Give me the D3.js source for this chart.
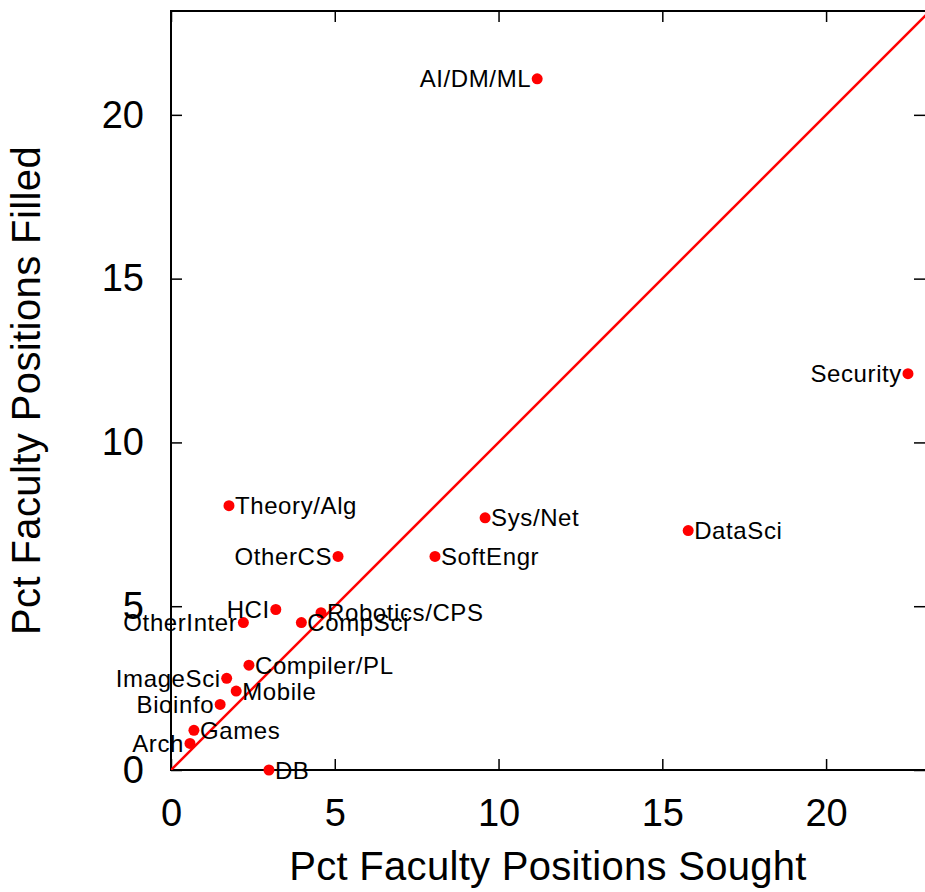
<!DOCTYPE html>
<html>
<head>
<meta charset="utf-8">
<script src="https://cdn.jsdelivr.net/npm/d3@7"></script>
<style>
  body { margin: 0; background: #fff; }
  text { font-family: "Liberation Sans", Arial, sans-serif; fill: #000; }
</style>
</head>
<body>
<div id="grafico"></div>
<script>
// Dados (percentuais)
const areas = ['AI/DM/ML', 'Security', 'Theory/Alg', 'Sys/Net', 'DataSci', 'OtherCS', 'SoftEngr',
    'HCI', 'Robotics/CPS', 'OtherInter', 'CompSci', 'Compiler/PL', 'ImageSci', 'Mobile',
    'Bioinfo', 'Games', 'Arch', 'DB'];
const sought = [11.18, 22.5, 1.77, 9.59, 15.79, 5.1, 8.06, 3.2, 4.58, 2.21, 3.98, 2.38, 1.7, 1.99, 1.5, 0.7, 0.58, 2.99];
const filled = [21.1, 12.1, 8.07, 7.7, 7.31, 6.52, 6.52, 4.9, 4.8, 4.5, 4.5, 3.2, 2.8, 2.41, 2.0, 1.21, 0.81, 0];
const ticks = [0, 5, 10, 15, 20];

// Rótulos que ficam à esquerda do ponto
const leftLabels = new Set(['AI/DM/ML', 'Security', 'OtherCS', 'HCI', 'OtherInter', 'ImageSci', 'Bioinfo', 'Arch']);

// Configurações do gráfico
let margin = { top: 11, right: 0, bottom: 122, left: 171 };
let width = 925 - margin.left - margin.right;
let height = 892 - margin.top - margin.bottom;

let svg = d3.select('#grafico').append('svg')
    .attr('width', 925)
    .attr('height', 892)
    .append('g')
    .attr('transform', `translate(${margin.left}, ${margin.top})`);

let x = d3.scaleLinear().domain([0, 23.02]).range([0, width]);
let y = d3.scaleLinear().domain([0, 23.17]).range([height, 0]);

svg.append('clipPath').attr('id', 'area')
    .append('rect').attr('width', width).attr('height', height);

// Ticks (para dentro, nos quatro lados)
let tickLen = 11;
svg.append('g').attr('transform', `translate(0, ${height})`)
    .call(d3.axisBottom(x).tickValues(ticks).tickSizeInner(-tickLen).tickSizeOuter(0).tickPadding(tickLen + 18))
    .call(g => g.select('.domain').remove())
    .call(g => g.selectAll('text').attr('font-size', 38).attr('dy', '0.71em'));

svg.append('g')
    .call(d3.axisLeft(y).tickValues(ticks).tickSizeInner(-tickLen).tickSizeOuter(0).tickPadding(tickLen + 16))
    .call(g => g.select('.domain').remove())
    .call(g => g.selectAll('text').attr('font-size', 38));

svg.append('g')
    .call(d3.axisTop(x).tickValues(ticks).tickSizeInner(-tickLen).tickSizeOuter(0).tickFormat(''))
    .call(g => g.select('.domain').remove());

svg.append('g').attr('transform', `translate(${width}, 0)`)
    .call(d3.axisRight(y).tickValues(ticks).tickSizeInner(-tickLen).tickSizeOuter(0).tickFormat(''))
    .call(g => g.select('.domain').remove());

svg.selectAll('.tick line').attr('stroke', '#000').attr('stroke-width', 1.5);

// Borda
svg.append('rect')
    .attr('width', width + 2).attr('height', height)
    .attr('fill', 'none').attr('stroke', '#000').attr('stroke-width', 2);

// Linha y = x
svg.append('line')
    .attr('clip-path', 'url(#area)')
    .attr('x1', x(0)).attr('y1', y(0))
    .attr('x2', x(24)).attr('y2', y(24))
    .attr('stroke', '#ff0000').attr('stroke-width', 2.5);

// Pontos
svg.selectAll('circle').data(areas).enter().append('circle')
    .attr('cx', (d, i) => x(sought[i]))
    .attr('cy', (d, i) => y(filled[i]))
    .attr('r', 5.5)
    .attr('fill', '#ff0000');

// Rótulos
svg.selectAll('.rotulo').data(areas).enter().append('text')
    .attr('class', 'rotulo')
    .attr('x', (d, i) => x(sought[i]) + (leftLabels.has(d) ? -6 : 6))
    .attr('y', (d, i) => y(filled[i]))
    .attr('dy', '0.36em')
    .attr('font-size', 24)
    .attr('letter-spacing', 0.6)
    .style('text-anchor', d => leftLabels.has(d) ? 'end' : 'start')
    .text(d => d);

// Títulos dos eixos
svg.append('text')
    .attr('x', width / 2)
    .attr('y', height + 110)
    .attr('font-size', 40)
    .attr('letter-spacing', 0.3)
    .style('text-anchor', 'middle')
    .text('Pct Faculty Positions Sought');

svg.append('text')
    .attr('transform', 'rotate(-90)')
    .attr('x', -height / 2)
    .attr('y', 40 - margin.left)
    .attr('font-size', 40)
    .attr('letter-spacing', 0.4)
    .style('text-anchor', 'middle')
    .text('Pct Faculty Positions Filled');
</script>
</body>
</html>
